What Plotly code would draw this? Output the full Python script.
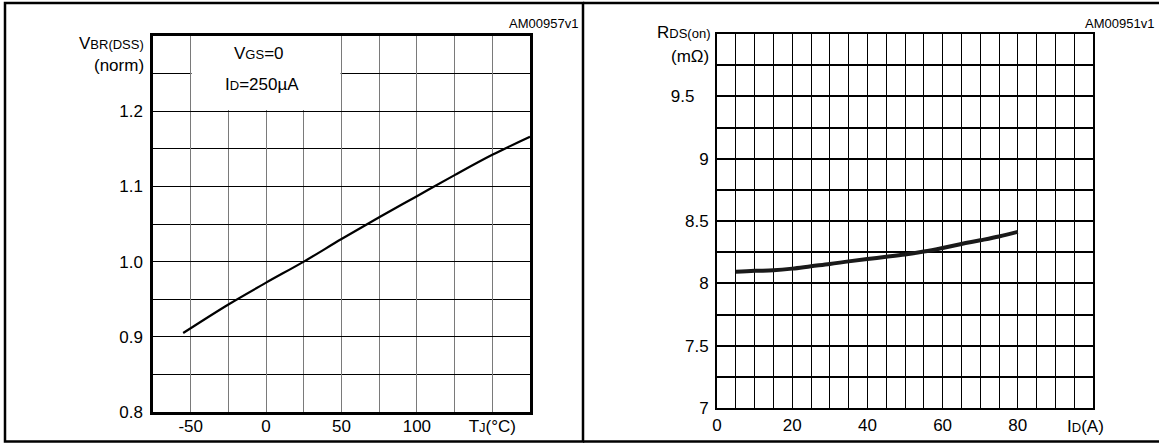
import plotly.graph_objects as go

W, H = 1159, 443

# ---------------- data: left chart (normalized breakdown voltage vs Tj) ----------------
tj_c = [-55, -25, 0, 25, 50, 75, 100, 125, 150, 175]
vbr_norm = [0.905, 0.943, 0.972, 1.000, 1.030, 1.059, 1.087, 1.115, 1.142, 1.166]
left_xtickvals = [-50, 0, 50, 100, 150]
left_xticktext = ["-50", "0", "50", "100", "T<span style='font-size:13px'>J</span>(°C)"]
left_ytickvals = [0.8, 0.9, 1.0, 1.1, 1.2]
left_yticktext = ["0.8", "0.9", "1.0", "1.1", "1.2"]

# ---------------- data: right chart (on-resistance vs drain current) ----------------
id_amp = [5, 10, 15, 20, 25, 30, 35, 40, 45, 50, 55, 60, 65, 70, 75, 80]
rds_mohm = [8.092, 8.100, 8.105, 8.118, 8.137, 8.155, 8.176, 8.195,
            8.213, 8.232, 8.255, 8.284, 8.316, 8.345, 8.376, 8.413]
right_xtickvals = [0, 20, 40, 60, 80]
right_xticktext = ["0", "20", "40", "60", "80"]
right_ytickvals = [7, 7.5, 8, 8.5, 9, 9.5]
right_yticktext = ["7", "7.5", "8", "8.5", "9", "9.5&nbsp;&nbsp;&nbsp;"]

FONT = "Liberation Sans, Arial, Helvetica, sans-serif"
FS = 17

fig = go.Figure()
fig.add_trace(go.Scatter(x=tj_c, y=vbr_norm, mode="lines", line=dict(color="black", width=2.2, shape="spline"),
                         xaxis="x", yaxis="y", showlegend=False, hoverinfo="skip"))
fig.add_trace(go.Scatter(x=id_amp, y=rds_mohm, mode="lines", line=dict(color="#1a1a1a", width=4, shape="spline"),
                         xaxis="x2", yaxis="y2", showlegend=False, hoverinfo="skip"))

common = dict(showline=True, linecolor="black", mirror=True, zeroline=False, ticks="", automargin=False,
              tickfont=dict(family=FONT, size=FS, color="black"))

fig.update_layout(
    template="none",
    width=W, height=H, margin=dict(l=0, r=0, t=0, b=0, pad=0, autoexpand=False),
    paper_bgcolor="white", plot_bgcolor="white",
    font=dict(family=FONT, size=FS, color="black"),
    xaxis=dict(domain=[153 / W, 530 / W], range=[-75, 175], anchor="y",
               tickmode="array", tickvals=left_xtickvals, ticktext=left_xticktext,
               showgrid=True, gridcolor="#7a7a7a", gridwidth=1, linewidth=2.5,
               minor=dict(tick0=0, dtick=25, showgrid=True, gridcolor="#7a7a7a", gridwidth=1),
               ticklabelstandoff=-3, **common),
    yaxis=dict(domain=[1 - 412 / H, 1 - 36 / H], range=[0.8, 1.3], anchor="x",
               tickmode="array", tickvals=left_ytickvals, ticktext=left_yticktext,
               showgrid=True, gridcolor="black", gridwidth=1, linewidth=2.5,
               minor=dict(tick0=0, dtick=0.05, showgrid=True, gridcolor="black", gridwidth=1),
               ticklabelstandoff=4, **common),
    xaxis2=dict(domain=[717 / W, 1093 / W], range=[0, 100], anchor="y2",
                tickmode="array", tickvals=right_xtickvals, ticktext=right_xticktext,
                showgrid=True, gridcolor="black", gridwidth=1.4, linewidth=2,
                minor=dict(tick0=0, dtick=5, showgrid=True, gridcolor="black", gridwidth=1.4),
                ticklabelstandoff=1, **common),
    yaxis2=dict(domain=[1 - 408 / H, 1 - 34 / H], range=[7, 10], anchor="x2",
                tickmode="array", tickvals=right_ytickvals, ticktext=right_yticktext,
                showgrid=True, gridcolor="black", gridwidth=2, linewidth=2,
                minor=dict(tick0=0, dtick=0.25, showgrid=True, gridcolor="black", gridwidth=2),
                ticklabelstandoff=3, **common),
)

shapes = [
    # white box behind the condition text (hides grid, stays under the curve and the frame)
    dict(type="rect", xref="x", yref="y", x0=-49.4, x1=49.4, y0=1.2015, y1=1.3,
         fillcolor="white", line=dict(width=0), layer="between"),
    # panel frames
    dict(type="rect", xref="paper", yref="paper", x0=5 / W, x1=583 / W, y0=1 - 441.5 / H, y1=1 - 3 / H,
         line=dict(color="black", width=2.5), fillcolor="rgba(0,0,0,0)"),
    dict(type="line", xref="paper", yref="paper", x0=583 / W, x1=1, y0=1 - 3 / H, y1=1 - 3 / H,
         line=dict(color="black", width=2.5)),
    dict(type="line", xref="paper", yref="paper", x0=583 / W, x1=1, y0=1 - 441.5 / H, y1=1 - 441.5 / H,
         line=dict(color="black", width=2.5)),
]
fig.update_layout(shapes=shapes)

def ann(text, x, y, xanchor="center", size=FS, xref="paper", yref="paper"):
    return dict(text=text, x=x, y=y, xref=xref, yref=yref, xanchor=xanchor, yanchor="middle",
                showarrow=False, font=dict(family=FONT, size=size, color="black"))

annotations = [
    ann("AM00957v1", 580 / W, 1 - 23 / H, xanchor="right", size=13),
    ann("AM00951v1", 1156 / W, 1 - 23 / H, xanchor="right", size=13),
    ann("V<span style='font-size:13px'>BR(DSS)</span>", 146 / W, 1 - 43 / H, xanchor="right"),
    ann("(norm)", 146 / W, 1 - 65 / H, xanchor="right"),
    ann("V<span style='font-size:13px'>GS</span>=0", -5, 1.277, xref="x", yref="y"),
    ann("I<span style='font-size:13px'>D</span>=250µA", -3, 1.235, xref="x", yref="y"),
    ann("R<span style='font-size:13px'>DS(on)</span>", 712 / W, 1 - 32 / H, xanchor="right"),
    ann("(mΩ)", 711 / W, 1 - 56 / H, xanchor="right"),
    ann("I<span style='font-size:13px'>D</span>(A)", 1085 / W, 1 - 426 / H),
]
fig.update_layout(annotations=annotations)

fig.write_html("out.html")
